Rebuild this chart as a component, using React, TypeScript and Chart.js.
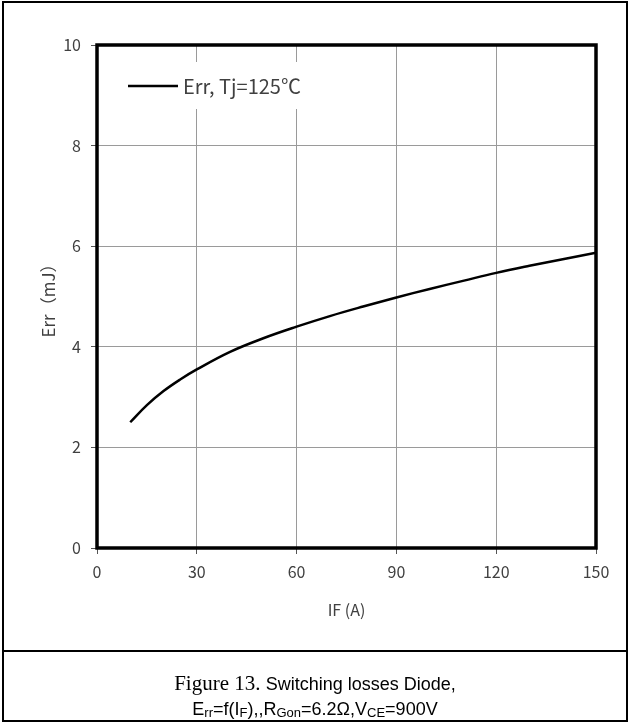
import React, { useEffect, useRef } from "react";
import { Chart, registerables } from "chart.js";

Chart.register(...registerables);

const currentA = [10, 15, 20, 25, 30, 40, 50, 60, 70, 80, 90, 100, 110, 120, 130, 140, 150];
const errMJ = [2.5, 2.84, 3.12, 3.35, 3.55, 3.9, 4.17, 4.4, 4.61, 4.8, 4.98, 5.15, 5.31, 5.47, 5.61, 5.74, 5.87];
const legendLabel = "Err, Tj=125℃";
const xTitle = "IF (A)";
const yTitle = "Err（mJ）";

const CANVAS_H = 648;
const PAD_B = 28;
const UI_FONT = "'Noto Sans CJK SC', 'Noto Sans', sans-serif";

const framePlugin = {
  id: "framePlugin",
  afterDatasetsDraw(chart: any) {
    const { ctx, chartArea } = chart;
    const bx = chartArea.left + 8;
    const by = chartArea.top + 17;
    ctx.save();
    ctx.fillStyle = "#ffffff";
    ctx.fillRect(bx, by, 220, 47);
    ctx.strokeStyle = "#000";
    ctx.lineWidth = 2.5;
    ctx.beginPath();
    ctx.moveTo(bx + 23, by + 24);
    ctx.lineTo(bx + 73, by + 24);
    ctx.stroke();
    ctx.fillStyle = "#404040";
    ctx.font = "20px " + UI_FONT;
    ctx.textBaseline = "middle";
    ctx.textAlign = "left";
    ctx.fillText(legendLabel, bx + 78, by + 24);
    ctx.restore();
  },
  afterDraw(chart: any) {
    const { ctx, chartArea } = chart;
    ctx.save();
    ctx.strokeStyle = "#000";
    ctx.lineWidth = 3.5;
    ctx.strokeRect(chartArea.left, chartArea.top, chartArea.right - chartArea.left, chartArea.bottom - chartArea.top);
    ctx.restore();
  },
};

function ErrChart() {
  const ref = useRef<HTMLCanvasElement | null>(null);
  useEffect(() => {
    if (!ref.current) return;
    const chart = new Chart(ref.current, {
      type: "line",
      data: {
        datasets: [
          {
            label: legendLabel,
            data: currentA.map((x, i) => ({ x, y: errMJ[i] })),
            borderColor: "#000",
            borderWidth: 2.5,
            pointRadius: 0,
            tension: 0.4,
            fill: false,
          },
        ],
      },
      options: {
        responsive: false,
        animation: false,
        devicePixelRatio: 1,
        layout: { padding: { left: 38, right: 34, top: 45, bottom: PAD_B } },
        plugins: { legend: { display: false }, tooltip: { enabled: false } },
        scales: {
          x: {
            type: "linear",
            min: 0,
            max: 150,
            ticks: { stepSize: 30, color: "#404040", font: { size: 16, family: UI_FONT }, padding: 8 },
            grid: { color: "#9a9a9a", lineWidth: 1, tickLength: 6, tickColor: "#555" },
            border: { display: false },
            title: { display: true, text: xTitle, color: "#404040", font: { size: 16, family: UI_FONT }, padding: 0 },
            afterFit(scale: any) {
              scale.height = CANVAS_H - PAD_B - 548;
            },
          },
          y: {
            min: 0,
            max: 10,
            ticks: { stepSize: 2, color: "#404040", font: { size: 16, family: UI_FONT }, padding: 10 },
            grid: { color: "#9a9a9a", lineWidth: 1, tickLength: 6, tickColor: "#555" },
            border: { display: false },
            title: { display: true, text: yTitle, color: "#404040", font: { size: 17, family: UI_FONT }, padding: 0 },
            afterFit(scale: any) {
              scale.width = 59;
            },
          },
        },
      },
      plugins: [framePlugin],
    } as any);
    return () => chart.destroy();
  }, []);
  return <canvas ref={ref} width={630} height={CANVAS_H} style={{ position: "absolute", left: 0, top: 0, width: 630, height: CANVAS_H }} />;
}

export default function App() {
  const sans = "'Liberation Sans', Arial, sans-serif";
  const serif = "'Liberation Serif', 'Times New Roman', serif";
  const sub: React.CSSProperties = { fontSize: 13, verticalAlign: "-2px" };
  return (
    <div style={{ position: "absolute", left: 0, top: 0, width: 630, height: 723, background: "#fff", overflow: "hidden" }}>
      <ErrChart />
      <div style={{ position: "absolute", left: 2, top: 1, width: 626, height: 721, border: "2px solid #000", boxSizing: "border-box" }} />
      <div style={{ position: "absolute", left: 2, top: 650, width: 626, height: 2, background: "#000" }} />
      <div style={{ position: "absolute", left: 0, top: 671, width: 630, textAlign: "center", color: "#000", lineHeight: "24px", whiteSpace: "nowrap" }}>
        <span style={{ fontFamily: serif, fontSize: 21 }}>Figure 13. </span>
        <span style={{ fontFamily: sans, fontSize: 18 }}>Switching losses Diode,</span>
      </div>
      <div style={{ position: "absolute", left: 0, top: 698, width: 630, textAlign: "center", color: "#000", lineHeight: "22px", whiteSpace: "nowrap", fontFamily: sans, fontSize: 18 }}>
        E<span style={sub}>rr</span>=f(I<span style={sub}>F</span>),,R<span style={sub}>Gon</span>=6.2Ω,V<span style={sub}>CE</span>=900V
      </div>
    </div>
  );
}
